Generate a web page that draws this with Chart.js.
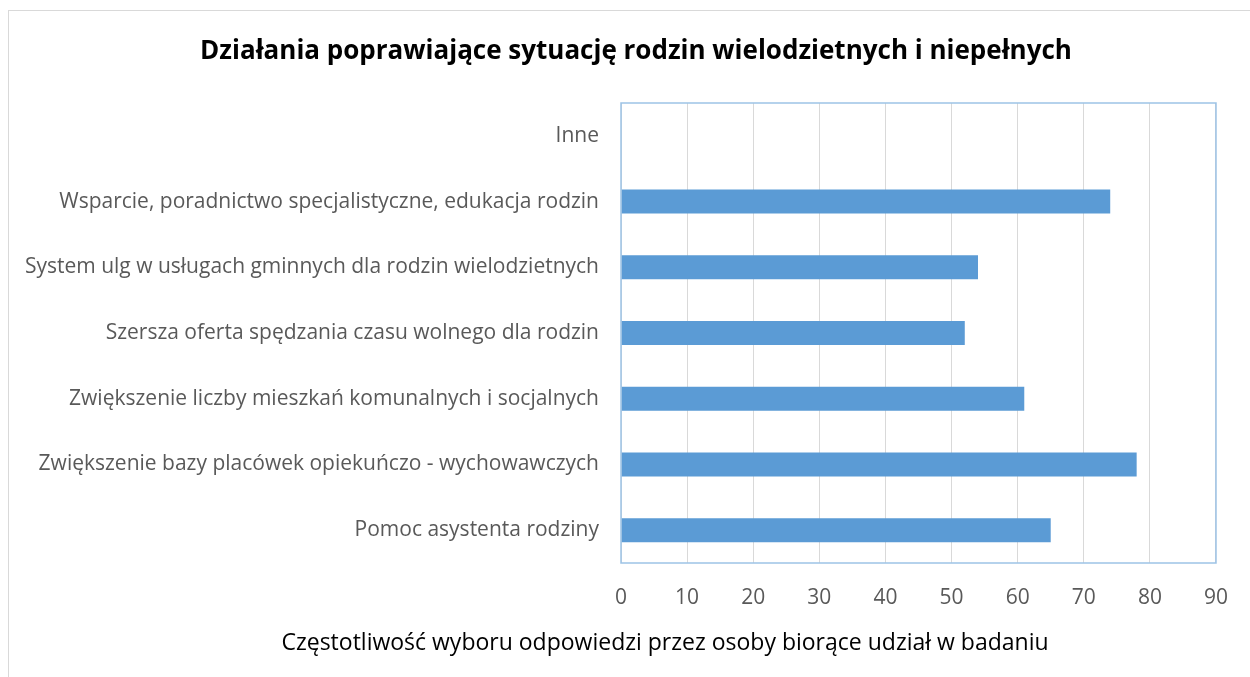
<!DOCTYPE html>
<html>
<head>
<meta charset="utf-8">
<script src="https://cdn.jsdelivr.net/npm/chart.js@4.4.1/dist/chart.umd.min.js"></script>
<style>
  html, body { margin: 0; padding: 0; background: #ffffff; }
  #wrap { position: relative; width: 1250px; height: 677px; }
  #frame { position: absolute; left: 8px; top: 10px; width: 1260px; height: 680px;
           border-top: 1px solid #d9d9d9; border-left: 1px solid #d9d9d9; box-sizing: border-box; }
  canvas { position: absolute; left: 0; top: 0; }
</style>
</head>
<body>
<div id="wrap">
  <div id="frame"></div>
  <canvas id="c" width="1250" height="677"></canvas>
</div>
<script>
const chartTitle = "Działania poprawiające sytuację rodzin wielodzietnych i niepełnych";
const axisTitle = "Częstotliwość wyboru odpowiedzi przez osoby biorące udział w badaniu";
const categories = [
  "Inne",
  "Wsparcie, poradnictwo specjalistyczne, edukacja rodzin",
  "System ulg w usługach gminnych dla rodzin wielodzietnych",
  "Szersza oferta spędzania czasu wolnego dla rodzin",
  "Zwiększenie liczby mieszkań komunalnych i socjalnych",
  "Zwiększenie bazy placówek opiekuńczo - wychowawczych",
  "Pomoc asystenta rodziny"
];
const values = [0, 74, 54, 52, 61, 78, 65];
const xMin = 0, xMax = 90, xStep = 10;

const FONT = "'Open Sans', sans-serif";

const decorations = {
  id: 'decorations',
  afterDraw(chart) {
    const {ctx, chartArea: a} = chart;
    ctx.save();
    ctx.strokeStyle = '#9dc3e6';
    ctx.lineWidth = 1.5;
    ctx.strokeRect(a.left, a.top, a.right - a.left, a.bottom - a.top);
    ctx.fillStyle = '#000000';
    ctx.textAlign = 'center';
    ctx.textBaseline = 'middle';
    ctx.font = "bold 26px " + FONT;
    ctx.fillText(chartTitle, 636, 52);
    ctx.font = "23px " + FONT;
    ctx.fillText(axisTitle, 665, 643);
    ctx.restore();
  }
};

new Chart(document.getElementById('c'), {
  type: 'bar',
  data: {
    labels: categories,
    datasets: [{
      data: values,
      backgroundColor: '#5b9bd5',
      borderWidth: 0,
      barPercentage: 0.73,
      categoryPercentage: 0.5
    }]
  },
  options: {
    indexAxis: 'y',
    responsive: false,
    animation: false,
    layout: { padding: { left: 0, right: 32, top: 103, bottom: 0 } },
    plugins: {
      legend: { display: false },
      tooltip: { enabled: false }
    },
    scales: {
      x: {
        min: xMin, max: xMax,
        ticks: { stepSize: xStep, color: '#595959', font: { family: FONT, size: 21 }, padding: 22 },
        grid: { color: '#d9d9d9', drawTicks: false },
        border: { display: false },
        afterFit(scale) { scale.height = 114; }
      },
      y: {
        ticks: { color: '#595959', font: { family: FONT, size: 21 }, padding: 22 },
        grid: { display: false, drawTicks: false },
        border: { display: false },
        afterFit(scale) { scale.width = 621; }
      }
    }
  },
  plugins: [decorations]
});
</script>
</body>
</html>
